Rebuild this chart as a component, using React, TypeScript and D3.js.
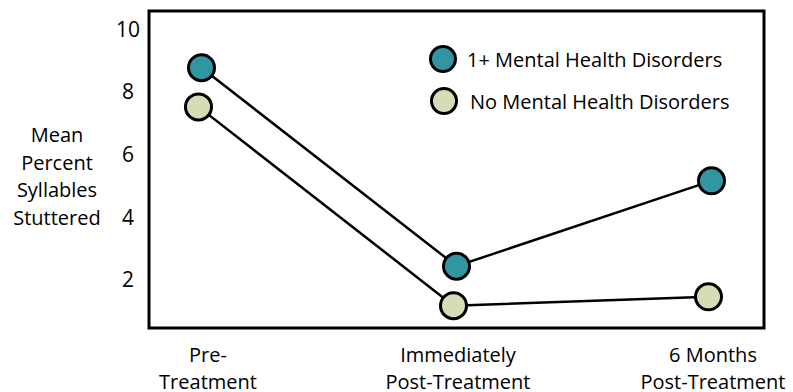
import React from "react";
import * as d3 from "d3";

const categories = ["Pre-Treatment", "Immediately Post-Treatment", "6 Months Post-Treatment"];
const categoryLines = [["Pre-", "Treatment"], ["Immediately", "Post-Treatment"], ["6 Months", "Post-Treatment"]];
const seriesNames = ["1+ Mental Health Disorders", "No Mental Health Disorders"];
const withDisorders = [8.75, 2.42, 5.14];
const noDisorders = [7.5, 1.16, 1.44];
const yTicks = [2, 4, 6, 8, 10];
const yLabelLines = ["Mean", "Percent", "Syllables", "Stuttered"];

const W = 793;
const H = 392;
const FONT = "'Open Sans', sans-serif";
const COLORS = ["#3196a1", "#d6dcb6"];

export default function App() {
  const frame = { left: 149, right: 764, top: 11, bottom: 328 };
  const y = d3.scaleLinear().domain([0, 10]).range([342, 28.5]);
  const x = d3.scalePoint().domain(categories).range([200, 710]);
  const offsets = [1.5, -1.5];
  const series = [withDisorders, noDisorders];
  const line = d3
    .line<number>()
    .x((_, i) => x(categories[i])!)
    .y((d) => y(d));

  return (
    <svg width={W} height={H} style={{ position: "absolute", left: 0, top: 0, background: "#fff" }}>
      <rect
        x={frame.left}
        y={frame.top}
        width={frame.right - frame.left}
        height={frame.bottom - frame.top}
        fill="none"
        stroke="#000"
        strokeWidth={3}
      />
      {yTicks.map((t) => (
        <text
          key={t}
          x={128}
          y={y(t)}
          textAnchor="middle"
          dominantBaseline="central"
          fontFamily={FONT}
          fontSize={21}
          fill="#000"
        >
          {t}
        </text>
      ))}
      <text fontFamily={FONT} fontSize={20} fill="#000" textAnchor="middle">
        {yLabelLines.map((l, i) => (
          <tspan key={l} x={57} y={142 + i * 27.5}>
            {l}
          </tspan>
        ))}
      </text>
      {categoryLines.map((lines, ci) => (
        <text key={ci} fontFamily={FONT} fontSize={20} fill="#000" textAnchor="middle">
          {lines.map((l, i) => (
            <tspan key={l} x={x(categories[ci])! + (ci === 0 ? 8 : 3)} y={362 + i * 27}>
              {l}
            </tspan>
          ))}
        </text>
      ))}
      {series.map((s, si) => (
        <g key={si} transform={`translate(${offsets[si]},0)`}>
          <path d={line(s)!} fill="none" stroke="#000" strokeWidth={2.5} />
          {s.map((v, i) => (
            <circle
              key={i}
              cx={x(categories[i])!}
              cy={y(v)}
              r={13}
              fill={COLORS[si]}
              stroke="#000"
              strokeWidth={3}
            />
          ))}
        </g>
      ))}
      {seriesNames.map((n, i) => (
        <g key={n} transform={`translate(${i === 0 ? 443 : 444},${59 + i * 42})`}>
          <circle r={12.5} fill={COLORS[i]} stroke="#000" strokeWidth={3} />
          <text
            x={i === 0 ? 24 : 26}
            dominantBaseline="central"
            fontFamily={FONT}
            fontSize={20}
            fill="#000"
          >
            {n}
          </text>
        </g>
      ))}
    </svg>
  );
}
